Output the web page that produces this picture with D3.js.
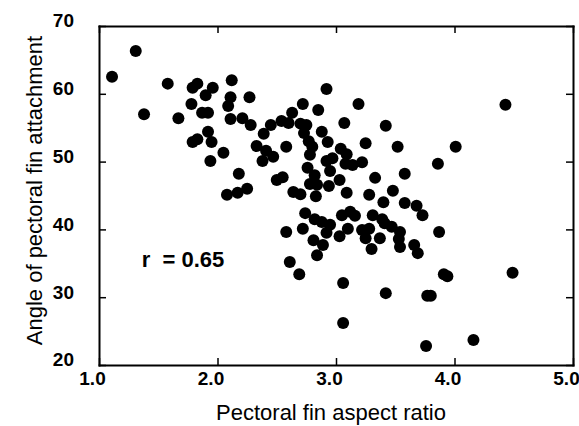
<!DOCTYPE html>
<html>
<head>
<meta charset="utf-8">
<script src="https://cdn.jsdelivr.net/npm/d3@7"></script>
<style>
  body { margin: 0; background: #fff; }
  svg { display: block; }
</style>
</head>
<body>
<svg width="579" height="426"></svg>
<script>
// aspect ratio of the pectoral fin (x) and angle of attachment (y)
var aspectRatio = [
    1.11, 1.31, 1.38, 1.58, 1.67, 1.79, 1.83, 1.78, 1.90, 1.96,
    1.87, 1.92, 2.12, 2.11, 2.09, 2.27, 2.11, 2.21, 2.28, 1.92,
    1.83, 1.79, 1.95, 2.05, 1.94, 2.18, 2.08, 2.17, 2.25, 2.33,
    2.39, 2.45, 2.54, 2.60, 2.63, 2.72, 2.85, 2.92, 2.70, 2.75,
    2.73, 2.77, 2.80, 2.78, 2.88, 2.93, 2.58, 2.41, 2.47, 2.38,
    2.50, 2.55, 2.76, 2.82, 2.78, 2.84, 2.92, 2.95, 2.94, 2.64,
    2.70, 2.83, 3.03, 3.19, 3.07, 3.42, 3.25, 3.52, 3.04, 3.09,
    2.97, 3.08, 3.14, 3.22, 3.33, 3.58, 3.09, 3.28, 3.48, 3.40,
    3.58, 4.01, 3.86, 4.43, 3.68, 3.73, 2.74, 2.82, 2.88, 2.95,
    2.92, 3.05, 3.12, 3.16, 2.72, 2.58, 3.10, 3.03, 3.31, 3.39,
    3.41, 3.47, 3.54, 3.53, 3.54, 3.22, 3.28, 3.25, 3.37, 3.30,
    3.66, 3.69, 2.81, 2.89, 2.84, 2.61, 2.69, 3.06, 3.42, 3.77,
    3.80, 3.06, 3.76, 4.16, 3.87, 3.91, 3.94, 4.49
];
var finAngle = [
    62.5, 66.3, 57.0, 61.5, 56.4, 60.9, 61.5, 58.5, 59.8, 60.9,
    57.2, 57.2, 62.0, 59.5, 58.2, 59.5, 56.3, 56.4, 55.4, 54.4,
    53.3, 52.9, 52.9, 51.3, 50.1, 48.2, 45.1, 45.4, 46.0, 52.3,
    54.1, 55.4, 56.0, 55.7, 57.2, 58.5, 57.6, 60.7, 55.6, 55.4,
    54.2, 53.0, 52.2, 51.0, 54.4, 52.9, 52.2, 51.6, 50.7, 50.1,
    47.3, 47.7, 49.1, 48.0, 46.7, 46.6, 50.1, 48.6, 46.4, 45.5,
    45.2, 44.9, 47.3, 58.5, 55.7, 55.3, 52.7, 52.2, 51.9, 51.1,
    50.5, 49.7, 49.5, 49.9, 47.6, 48.2, 45.4, 45.1, 45.7, 44.0,
    43.9, 52.2, 49.7, 58.4, 43.5, 42.1, 42.4, 41.5, 41.1, 40.7,
    39.5, 42.1, 42.6, 42.0, 40.1, 39.6, 40.1, 39.0, 42.1, 41.5,
    40.9, 40.4, 39.6, 38.6, 37.4, 39.9, 40.1, 38.7, 38.7, 37.1,
    37.7, 36.5, 38.4, 37.7, 36.2, 35.2, 33.4, 32.1, 30.6, 30.2,
    30.2, 26.2, 22.8, 23.7, 39.6, 33.4, 33.1, 33.6
];

var xTicks = [1, 2, 3, 4, 5];
var yTicks = [20, 30, 40, 50, 60, 70];

var xTitle = "Pectoral fin aspect ratio";
var yTitle = "Angle of pectoral fin attachment";
var note = "r  = 0.65";

var font = "'Liberation Sans', Arial, Helvetica, sans-serif";

var svg = d3.select("svg"),
    margin = { top: 26, right: 6, bottom: 61, left: 99 },
    width = +svg.attr("width") - margin.left - margin.right,
    height = +svg.attr("height") - margin.top - margin.bottom,
    g = svg.append("g").attr("transform", "translate(" + margin.left + "," + margin.top + ")");

var x = d3.scaleLinear().domain([1, 5]).range([0, width]);
var y = d3.scaleLinear().domain([20, 70]).range([height, 0]);

var points = aspectRatio.map(function (d, i) { return { x: d, y: finAngle[i] }; });

// dots
g.append("g")
    .selectAll("circle")
    .data(points)
    .enter().append("circle")
    .attr("cx", function (d) { return x(d.x); })
    .attr("cy", function (d) { return y(d.y); })
    .attr("r", 6)
    .attr("fill", "#000");

// axes, ticks pointing inwards on all four sides
function styleAxis(sel) {
    sel.select(".domain").attr("stroke", "#000").attr("stroke-width", 2);
    sel.selectAll(".tick line").attr("stroke", "#000").attr("stroke-width", 1.5);
}

var xAxis = g.append("g")
    .attr("transform", "translate(0," + height + ")")
    .call(d3.axisBottom(x).tickValues(xTicks).tickSize(-7).tickSizeOuter(0).tickPadding(7).tickFormat(d3.format(".1f")));
styleAxis(xAxis);
xAxis.selectAll("text")
    .attr("x", -7)
    .attr("fill", "#000")
    .style("font-family", font)
    .style("font-size", "19px")
    .style("font-weight", "bold");

var yAxis = g.append("g")
    .call(d3.axisLeft(y).tickValues(yTicks).tickSize(-7).tickSizeOuter(0).tickPadding(25));
styleAxis(yAxis);
yAxis.selectAll("text")
    .attr("dy", "0.05em")
    .attr("fill", "#000")
    .style("font-family", font)
    .style("font-size", "19px")
    .style("font-weight", "bold");

var topAxis = g.append("g")
    .call(d3.axisTop(x).tickValues(xTicks).tickSize(-7).tickSizeOuter(0).tickFormat(""));
styleAxis(topAxis);

var rightAxis = g.append("g")
    .attr("transform", "translate(" + width + ",0)")
    .call(d3.axisRight(y).tickValues(yTicks).tickSize(-7).tickSizeOuter(0).tickFormat(""));
styleAxis(rightAxis);

g.selectAll(".domain").attr("stroke-linecap", "square");

// titles
svg.append("text")
    .attr("x", margin.left + width / 2 - 5)
    .attr("y", 420)
    .attr("text-anchor", "middle")
    .style("font-family", font)
    .style("font-size", "22px")
    .text(xTitle);

svg.append("text")
    .attr("transform", "translate(42," + (margin.top + height / 2 - 5) + ") rotate(-90)")
    .attr("text-anchor", "middle")
    .style("font-family", font)
    .style("font-size", "22px")
    .text(yTitle);

// correlation note
g.append("text")
    .attr("x", x(1.36))
    .attr("y", y(34.4))
    .style("font-family", font)
    .style("font-size", "22px")
    .style("font-weight", "bold")
    .style("white-space", "pre")
    .text(note);
</script>
</body>
</html>
